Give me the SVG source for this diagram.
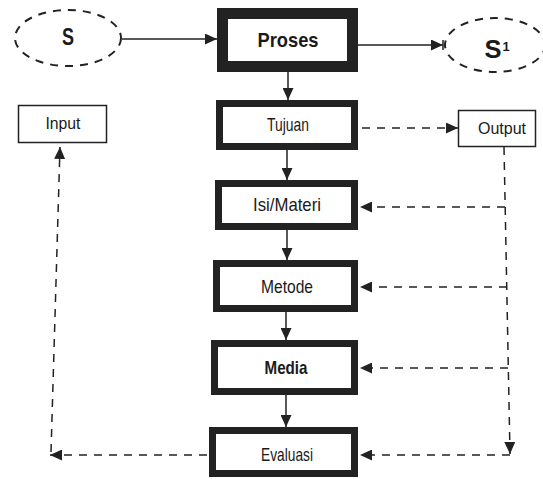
<svg xmlns="http://www.w3.org/2000/svg" width="543" height="479" viewBox="0 0 543 479">
<style>
.box{fill:#fff;stroke:#222;stroke-width:7}
.thick{stroke-width:11}
.thin{fill:#fff;stroke:#222;stroke-width:1.5}
.ell{fill:none;stroke:#222;stroke-width:2;stroke-dasharray:8 7}
.t{font-family:"Liberation Sans",Arial,sans-serif;fill:#1a1a1a;text-anchor:middle}
.ln{fill:none;stroke:#222;stroke-width:1.5}
.dash{stroke-dasharray:8 7}
</style>
<defs>
<marker id="ah" markerUnits="userSpaceOnUse" markerWidth="12" markerHeight="11" refX="12" refY="5.5" orient="auto">
<path d="M0,0 L12,5.5 L0,11 z" fill="#222"/>
</marker>
</defs>
<rect width="543" height="479" fill="#fff"/>
<g id="connectors">
<line class="ln" x1="122" y1="39" x2="217" y2="39" marker-end="url(#ah)"/>
<line class="ln" x1="358" y1="45" x2="443" y2="45" marker-end="url(#ah)"/>
<line class="ln" x1="443" y1="40" x2="443" y2="50"/>
<line class="ln" x1="288" y1="72" x2="288" y2="100" marker-end="url(#ah)"/>
<line class="ln" x1="287" y1="150" x2="287" y2="180" marker-end="url(#ah)"/>
<line class="ln" x1="287" y1="230" x2="287" y2="260" marker-end="url(#ah)"/>
<line class="ln" x1="286" y1="312" x2="286" y2="340" marker-end="url(#ah)"/>
<line class="ln" x1="286" y1="395" x2="286" y2="427" marker-end="url(#ah)"/>
<line class="ln dash" x1="362" y1="128" x2="458" y2="128" marker-end="url(#ah)"/>
<line class="ln dash" x1="504" y1="147" x2="510" y2="454" marker-end="url(#ah)"/>
<line class="ln dash" x1="505" y1="207" x2="360" y2="207" marker-end="url(#ah)"/>
<line class="ln dash" x1="507" y1="287" x2="360" y2="287" marker-end="url(#ah)"/>
<line class="ln dash" x1="508" y1="368" x2="360" y2="368" marker-end="url(#ah)"/>
<line class="ln dash" x1="510" y1="455" x2="360" y2="455" marker-end="url(#ah)"/>
<line class="ln dash" x1="207" y1="455" x2="50" y2="455" marker-end="url(#ah)"/>
<line class="ln dash" x1="51" y1="452" x2="60" y2="147" marker-end="url(#ah)"/>
</g>
<g id="S">
<ellipse class="ell" cx="68" cy="38" rx="53" ry="28"/>
<text class="t" x="68" y="45" font-size="23" font-weight="bold" textLength="12" lengthAdjust="spacingAndGlyphs">S</text>
</g>
<g id="S1">
<ellipse class="ell" cx="495" cy="45" rx="50" ry="27"/>
<text class="t" x="493" y="58" font-size="25" font-weight="bold" textLength="17" lengthAdjust="spacingAndGlyphs">S</text>
<text class="t" x="506" y="51" font-size="13" font-weight="bold">1</text>
</g>
<g id="proses">
<rect class="box thick" x="222.5" y="13.5" width="130" height="53"/>
<text class="t" x="288" y="47" font-size="21" font-weight="bold" textLength="61" lengthAdjust="spacingAndGlyphs">Proses</text>
</g>
<g id="tujuan">
<rect class="box" x="219.5" y="103.5" width="135" height="43"/>
<text class="t" x="288" y="131" font-size="19" textLength="42" lengthAdjust="spacingAndGlyphs">Tujuan</text>
</g>
<g id="isi">
<rect class="box" x="218.5" y="183.5" width="136" height="43"/>
<text class="t" x="287" y="211" font-size="19" textLength="68" lengthAdjust="spacingAndGlyphs">Isi/Materi</text>
</g>
<g id="metode">
<rect class="box" x="216.5" y="263.5" width="138" height="45"/>
<text class="t" x="287" y="293" font-size="19" textLength="52" lengthAdjust="spacingAndGlyphs">Metode</text>
</g>
<g id="media">
<rect class="box" x="214.5" y="343.5" width="140" height="48"/>
<text class="t" x="286" y="374" font-size="19" font-weight="bold" textLength="43" lengthAdjust="spacingAndGlyphs">Media</text>
</g>
<g id="evaluasi">
<rect class="box" x="212.5" y="430.5" width="142" height="43"/>
<text class="t" x="287" y="461" font-size="19" textLength="52" lengthAdjust="spacingAndGlyphs">Evaluasi</text>
</g>
<g id="input">
<rect class="thin" x="18.5" y="105.5" width="88" height="37"/>
<text class="t" x="63" y="129" font-size="16" textLength="35" lengthAdjust="spacingAndGlyphs">Input</text>
</g>
<g id="output">
<rect class="thin" x="458.5" y="110.5" width="77" height="36"/>
<text class="t" x="502" y="134" font-size="17" textLength="48" lengthAdjust="spacingAndGlyphs">Output</text>
</g>
</svg>
